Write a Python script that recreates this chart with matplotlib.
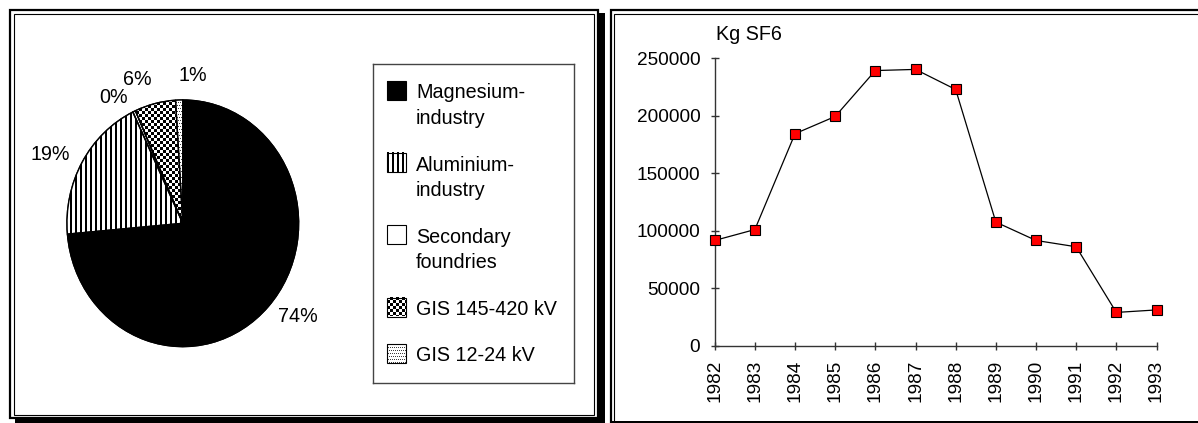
import numpy as np
import matplotlib
matplotlib.use("Agg")
import matplotlib.pyplot as plt
from matplotlib.patches import Rectangle

plt.rcParams['font.family'] = ['Liberation Sans', 'DejaVu Sans']

# ---------------- data ----------------
pie_categories = ["Magnesium-\nindustry", "Aluminium-\nindustry", "Secondary\nfoundries",
                  "GIS 145-420 kV", "GIS 12-24 kV"]
pie_values = [73.6, 19.3, 0.4, 5.7, 1.0]
pie_patterns = ["black", "stripes", "white", "checker", "dots"]

years = [1982, 1983, 1984, 1985, 1986, 1987, 1988, 1989, 1990, 1991, 1992, 1993]
kg_sf6 = [91500, 101000, 184500, 199500, 239500, 240500, 223000, 107500, 91500, 86000, 28800, 31000]
y_ticks = [0, 50000, 100000, 150000, 200000, 250000]

W, H = 1198, 423
fig = plt.figure(figsize=(W / 100, H / 100), dpi=100)


def fx(x):
    return x / W


def fy(y):
    return 1 - y / H


def frame(x0, y0, x1, y1, lw):
    fig.patches.append(Rectangle((fx(x0), fy(y1)), fx(x1) - fx(x0), fy(y0) - fy(y1),
                                 transform=fig.transFigure, fill=False,
                                 edgecolor='black', linewidth=lw, zorder=10))


def band(x0, y0, x1, y1):
    fig.patches.append(Rectangle((fx(x0), fy(y1)), fx(x1) - fx(x0), fy(y0) - fy(y1),
                                 transform=fig.transFigure, facecolor='black',
                                 edgecolor='none', zorder=10))


# panel frames
frame(10, 10, 597.5, 417.5, 1.6)
frame(13.8, 13.8, 594, 414.5, 0.8)
band(598, 13, 605, 423)
band(15, 418.5, 605, 423)
frame(611, 10, 1215, 440, 1.6)
frame(614.3, 13.8, 1210, 421.5, 0.8)
band(611, 421, 1198, 423)


def pattern(kind, h, w):
    i, j = np.indices((h, w))
    if kind == "stripes":
        return ((j % 5) < 2).astype(float)
    if kind == "checker":
        return (((i // 3) + (j // 3)) % 2).astype(float)
    if kind == "dots":
        return (((i % 3) == 0) & (((j + (i // 3) % 2 * 1) % 2) == 0)).astype(float) * 0.75
    if kind == "black":
        return np.ones((h, w))
    return np.zeros((h, w))


# ---------------- pie ----------------
cx, cy, rx, ry = 182.8, 223.3, 115.8, 123.3
lim = 1.1
axp = fig.add_axes([fx(cx - lim * rx), fy(cy + lim * ry), 2 * lim * rx / W, 2 * lim * ry / H])
pct_labels = [f"{v:.0f}%" for v in pie_values]
wedges, texts = axp.pie(pie_values, labels=pct_labels, labeldistance=1.12, startangle=90,
                        counterclock=False,
                        colors=['black' if p == 'black' else 'white' for p in pie_patterns],
                        wedgeprops=dict(edgecolor='black', linewidth=1.0),
                        textprops=dict(fontsize=14.2, color='black'))
pw, ph = int(round(2 * lim * rx)), int(round(2 * lim * ry))
for w_, p in zip(wedges, pie_patterns):
    if p in ("stripes", "checker", "dots"):
        im = axp.imshow(pattern(p, ph, pw), cmap='gray_r', vmin=0, vmax=1,
                        extent=(-lim, lim, -lim, lim), aspect='auto',
                        interpolation='nearest', zorder=w_.get_zorder() + 0.1)
        im.set_clip_path(w_)
for w_ in wedges:
    edge = plt.matplotlib.patches.Wedge(w_.center, w_.r, w_.theta1, w_.theta2,
                                        fill=False, edgecolor='black', linewidth=1.0, zorder=5)
    axp.add_patch(edge)
for t in texts:
    x, y = t.get_position()
    t.set_ha('left' if x > -0.1 else 'right')
    if y > 1.05:
        t.set_va('bottom')
axp.set_aspect('auto')
axp.set_xlim(-lim, lim)
axp.set_ylim(-lim, lim)
axp.axis('off')

# ---------------- legend (manual box) ----------------
lx0, ly0, lx1, ly1 = 373, 64, 574, 383
axl = fig.add_axes([fx(lx0), fy(ly1), (lx1 - lx0) / W, (ly1 - ly0) / H])
axl.set_xlim(0, lx1 - lx0)
axl.set_ylim(ly1 - ly0, 0)
axl.set_xticks([])
axl.set_yticks([])
for s in axl.spines.values():
    s.set_color('#444444')
    s.set_linewidth(1.0)
line_h = 25.5
ycur = 29
hs = 19
for lab, p in zip(pie_categories, pie_patterns):
    nl = lab.count("\n") + 1
    hy = ycur - 2 - hs / 2
    hx = 14
    axl.imshow(pattern(p, hs, hs), cmap='gray_r', vmin=0, vmax=1,
               extent=(hx, hx + hs, hy + hs, hy), aspect='auto', interpolation='nearest')
    axl.add_patch(Rectangle((hx, hy), hs, hs, fill=False, edgecolor='black', linewidth=0.8))
    for k, part in enumerate(lab.split("\n")):
        axl.text(43, ycur + k * line_h, part, fontsize=14.2, ha='left', va='center')
    ycur += nl * line_h + 21
axl.set_xlim(0, lx1 - lx0)
axl.set_ylim(ly1 - ly0, 0)

# ---------------- line chart ----------------
ax2 = fig.add_axes([fx(714.7), fy(345.5), (1156.5 - 714.7) / W, (345.5 - 58.5) / H])
ax2.plot(years, kg_sf6, color='black', linewidth=0.9, marker='s', markersize=7.2,
         markerfacecolor='#ff0000', markeredgecolor='black', markeredgewidth=0.8,
         clip_on=False, zorder=3)
ax2.set_xlim(years[0], years[-1])
ax2.set_ylim(0, 250000)
ax2.set_xticks(years)
ax2.set_xticklabels([str(y) for y in years], rotation=90, fontsize=13.7)
ax2.set_yticks(y_ticks)
ax2.set_yticklabels([str(v) for v in y_ticks], fontsize=13.7)
for s in ('top', 'right'):
    ax2.spines[s].set_visible(False)
for s in ('left', 'bottom'):
    ax2.spines[s].set_color('#333333')
    ax2.spines[s].set_linewidth(1.0)
ax2.tick_params(axis='both', direction='inout', length=6, width=1.0, color='#333333')
ax2.tick_params(axis='y', pad=7.4)
ax2.tick_params(axis='x', pad=7.2)
ax2.set_facecolor('none')
fig.text(fx(716), fy(34), "Kg SF6", fontsize=14.2, ha='left', va='center')

fig.savefig("out.png", dpi=100)
